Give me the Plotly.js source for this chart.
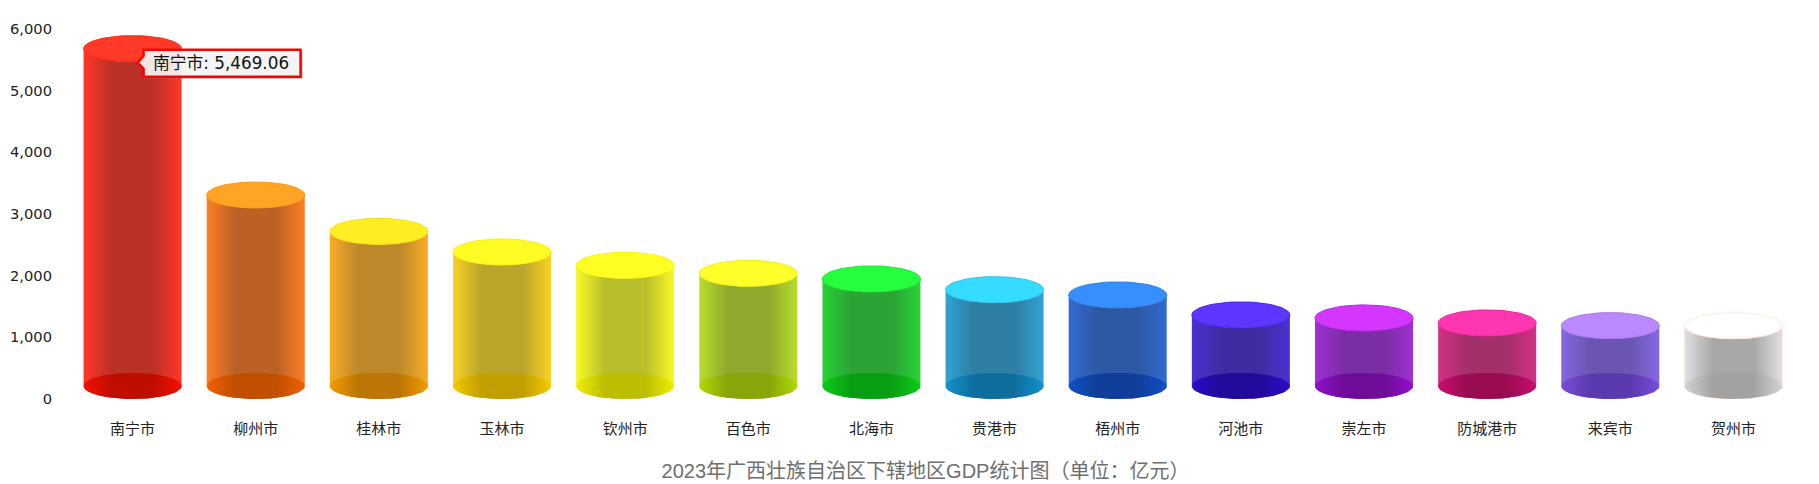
<!DOCTYPE html>
<html><head><meta charset="utf-8">
<script src="https://cdn.plot.ly/plotly-3.0.1.min.js"></script>
<style>html,body{margin:0;padding:0;background:#fff}#c{width:1819px;height:484px}</style>
</head><body><div id="c"></div>
<script>
const categories=["南宁市","柳州市","桂林市","玉林市","钦州市","百色市","北海市","贵港市","梧州市","河池市","崇左市","防城港市","来宾市","贺州市"];
const gdpValues=[5469.06,3096,2506,2172,1955,1825,1734,1561,1475,1151,1102,1021,977,977];
const topColors=["#FF3A28","#FFA424","#FFEE24","#FFFC24","#FFFF24","#FFFF2A","#26FF3E","#36DCFF","#368FFF","#5F36FF","#D536FF","#FF36B2","#BA88FF","#FFFFFF"];
const outlineColors=["#FF2A10","#FF9A10","#F8E010","#F8EE10","#F5F510","#F0F015","#1CE830","#30C4E8","#3080E8","#4A20F0","#C020F0","#F020A0","#A878E8","#FFE8DC"];
const sideEdgeColors=["#FF3628","#FF7E24","#F9AC26","#F9D226","#F9F926","#B8DE2C","#2AD338","#2FA3D3","#2F6BD3","#4A30D3","#A030D3","#D33085","#8468E4","#E0E0E0"];
const sideMidColors=["#BB3027","#BB6126","#BD872A","#BCA42A","#B9BF2A","#8FA92D","#2BA335","#2F7EA4","#2F58A4","#3F2CA3","#7A2EA3","#A33068","#6B55B0","#A8A8A8"];
const baseEdgeColors=["#F21000","#F06000","#F39C00","#F5C800","#EEEE00","#B0D800","#0CCC14","#1291CC","#1050C8","#2A0EC8","#9010CC","#C80E70","#7A4CDC","#D4D4D4"];
const baseMidColors=["#BF0E00","#C04F00","#BC7605","#C0A000","#BBBF00","#88A50A","#089F14","#0E6F9F","#103E9A","#220A9B","#6F0C9A","#9A0C52","#5A3AAE","#A2A2A2"];
const yTicks=[0,1000,2000,3000,4000,5000,6000];

const RX=0.398, RY=212, LIFT=212, N=72;
function ell(i,v,a0,a1,steps){const xs=[],ys=[];for(let k=0;k<=steps;k++){const t=a0+(a1-a0)*k/steps;xs.push(i+RX*Math.cos(t));ys.push(v+LIFT+RY*Math.sin(t));}return [xs,ys];}
function grad(edge,mid){return {type:'horizontal',colorscale:[[0,edge],[0.29,mid],[0.71,mid],[1,edge]]};}
const traces=[];
traces.push({type:'bar',x:categories.map((c,i)=>i),y:gdpValues,width:0.8,marker:{color:'rgba(0,0,0,0)'},text:categories,textposition:'none',hovertemplate:'%{text}: %{y:,.2f}<extra></extra>',showlegend:false});
categories.forEach((c,i)=>{
  const v=gdpValues[i];
  const [sx,sy]=ell(i,0,Math.PI,2*Math.PI,N);
  const [tx,ty]=ell(i,v,0,-Math.PI,N);
  traces.push({type:'scatter',mode:'lines',x:sx.concat(tx,[sx[0]]),y:sy.concat(ty,[sy[0]]),fill:'toself',fillgradient:grad(sideEdgeColors[i],sideMidColors[i]),line:{width:i==13?1:0,color:outlineColors[i]},hoverinfo:'skip',showlegend:false});
  const [bx,by]=ell(i,0,0,2*Math.PI,N);
  traces.push({type:'scatter',mode:'lines',x:bx,y:by,fill:'toself',fillgradient:grad(baseEdgeColors[i],baseMidColors[i]),line:{width:0},hoverinfo:'skip',showlegend:false});
  const [cx,cy]=ell(i,v,0,2*Math.PI,N);
  traces.push({type:'scatter',mode:'lines',x:cx,y:cy,fill:'toself',fillcolor:topColors[i],line:{width:1,color:outlineColors[i]},hoverinfo:'skip',showlegend:false});
});
const tipX=0, tipY=gdpValues[0];
const pathBox=(dx,dy)=>`M${5+dx},${-1+dy} L${11+dx},${6+dy} L${11+dx},${12+dy} L${168+dx},${12+dy} L${168+dx},${-15+dy} L${11+dx},${-15+dy} L${11+dx},${-7+dy} Z`;
const layout={
  width:1819,height:484,showlegend:false,paper_bgcolor:'#fff',plot_bgcolor:'#fff',
  margin:{l:70.5,r:23.9,t:29,b:85},
  hovermode:'closest',
  font:{family:'"DejaVu Sans","Noto Sans CJK SC",sans-serif',color:'#222'},
  title:{text:'2023年广西壮族自治区下辖地区GDP统计图（单位：亿元）',x:925.5/1819,xanchor:'center',y:1-471/484,yanchor:'middle',font:{family:'"Liberation Sans","Noto Sans CJK SC",sans-serif',size:20,color:'#6e6e6e'}},
  xaxis:{type:'linear',range:[-0.5,13.5],tickmode:'array',tickvals:categories.map((c,i)=>i),ticktext:categories,showgrid:false,zeroline:false,showline:false,ticks:'outside',ticklen:16,tickcolor:'rgba(0,0,0,0)',tickfont:{size:15,family:'"Noto Sans CJK SC","DejaVu Sans",sans-serif',color:'#222'}},
  yaxis:{range:[0,6000],tickmode:'array',tickvals:yTicks,ticktext:yTicks.map(t=>t.toLocaleString('en-US')),showgrid:false,zeroline:false,showline:false,ticks:'outside',ticklen:15,tickcolor:'rgba(0,0,0,0)',tickfont:{size:14.7,color:'#222'}},
  shapes:[
    {type:'path',layer:'above',xref:'x',yref:'y',xsizemode:'pixel',ysizemode:'pixel',xanchor:tipX,yanchor:tipY,path:pathBox(2,-2),fillcolor:'rgba(120,120,120,0.55)',line:{width:0}},
    {type:'path',layer:'above',xref:'x',yref:'y',xsizemode:'pixel',ysizemode:'pixel',xanchor:tipX,yanchor:tipY,path:pathBox(0,0),fillcolor:'rgba(255,255,255,0.85)',line:{width:2.5,color:'#FF0000'}}
  ],
  annotations:[{xref:'x',yref:'y',x:tipX,y:tipY,xanchor:'left',yanchor:'middle',xshift:18.5,yshift:-1.5,showarrow:false,text:categories[0]+': '+gdpValues[0].toLocaleString('en-US',{minimumFractionDigits:2}),font:{size:16.8,color:'#111',family:'"DejaVu Sans","Noto Sans CJK SC",sans-serif'}}]
};
Plotly.newPlot('c',traces,layout,{displayModeBar:false,responsive:false});
</script></body></html>
